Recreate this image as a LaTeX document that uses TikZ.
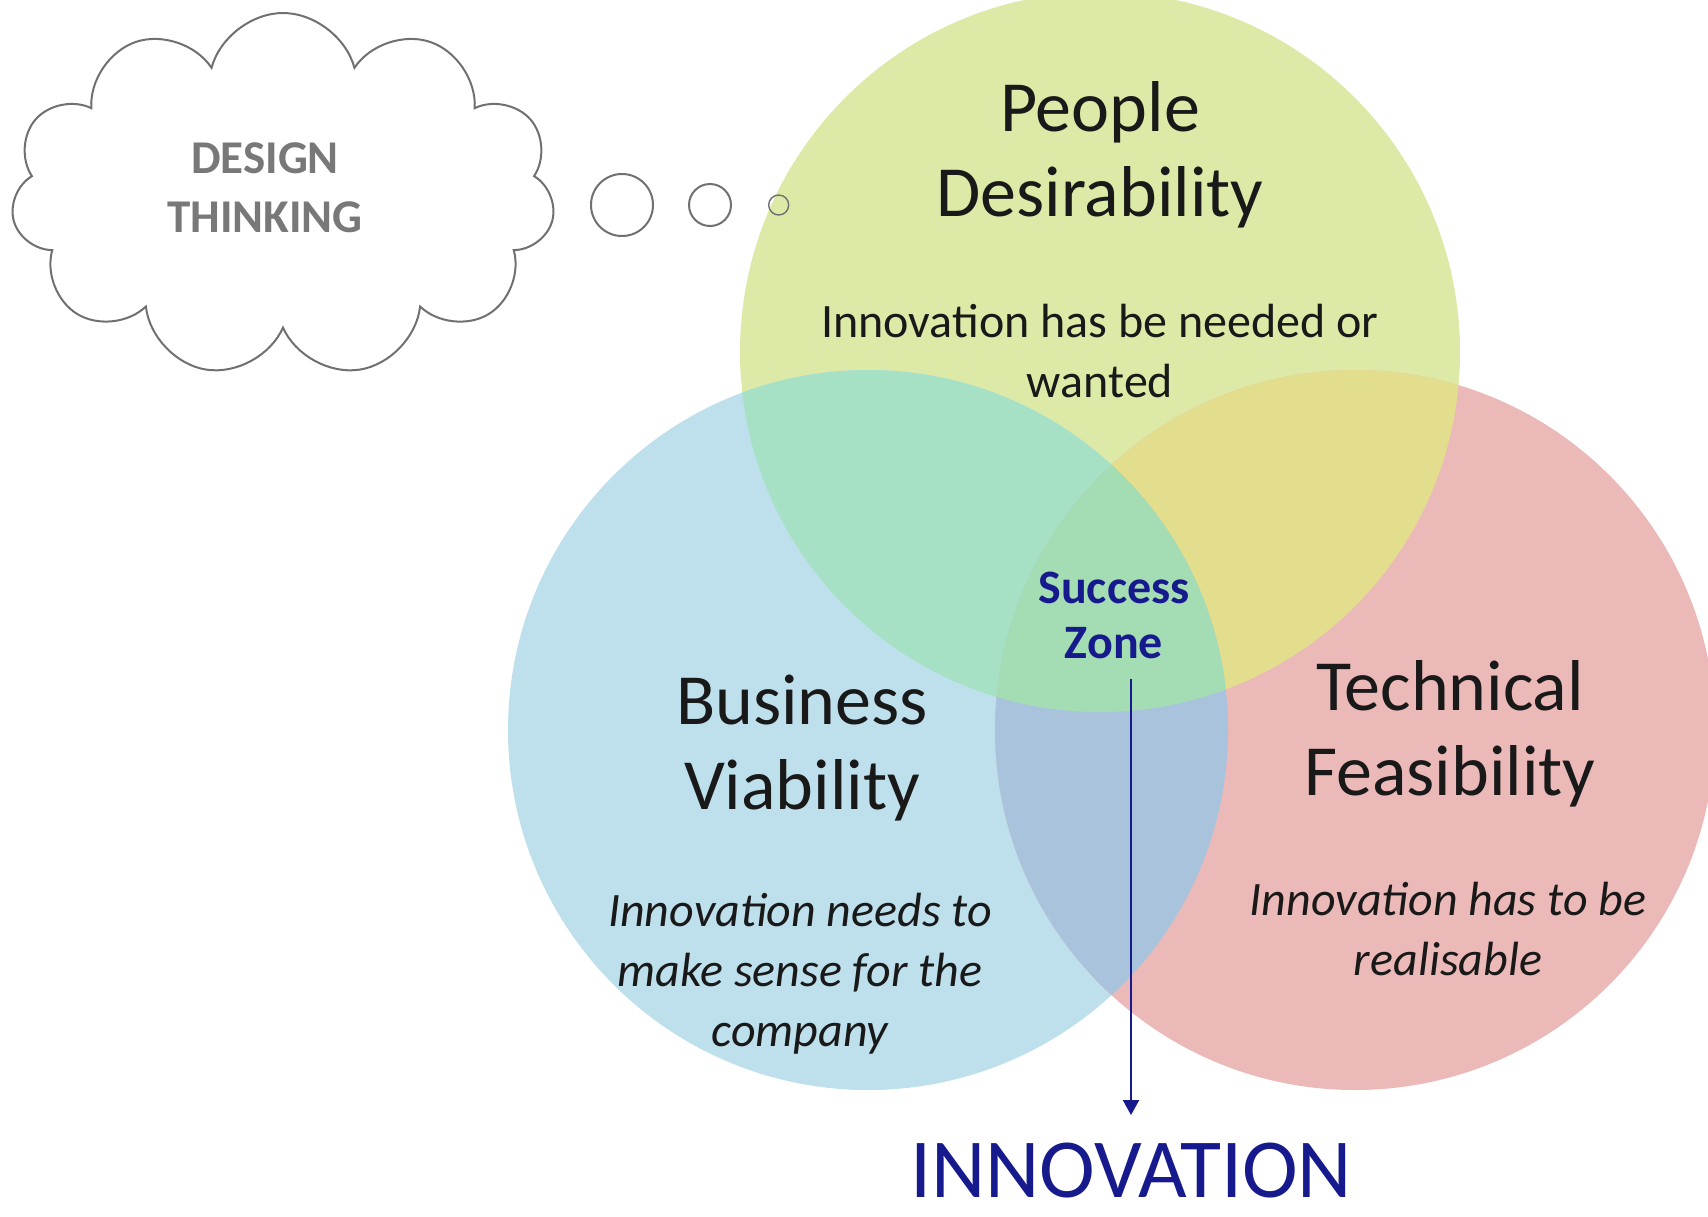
\documentclass[tikz,border=0pt]{standalone}
\usepackage{fontspec}
\setmainfont{Carlito}
\usetikzlibrary{positioning,shapes.symbols,arrows.meta}

\definecolor{pdfill}{RGB}{221,234,167}
\definecolor{bvfill}{RGB}{190,224,236}
\definecolor{tffill}{RGB}{235,186,184}
\definecolor{pdbv}{RGB}{166,225,198}
\definecolor{pdtf}{RGB}{226,222,142}
\definecolor{bvtf}{RGB}{169,195,220}
\definecolor{allthree}{RGB}{164,221,180}
\definecolor{zonenavy}{RGB}{22,26,140}
\definecolor{cloudgrey}{RGB}{112,112,112}
\definecolor{dtgrey}{RGB}{120,120,120}

\newcommand{\vennr}{180pt}

\tikzset{
  headtxt/.style={align=center, text=black!90, inner sep=0pt, font=\fontsize{36}{42.5}\selectfont},
  blurb/.style={align=center, text=black!90, inner sep=0pt, font=\fontsize{24}{30}\selectfont},
  bubble/.style={draw=cloudgrey, circle, line width=1pt, inner sep=0pt}
}

\begin{document}
\begin{tikzpicture}[x=0.5pt, y=-0.5pt]
\useasboundingbox (0,0) rectangle (1708,1216);

% the three sets
\coordinate (pdc) at (1100,352);
\coordinate (bvc) at (868,730);
\coordinate (tfc) at (1355,730);
\fill[pdfill] (pdc) circle[radius=\vennr];
\fill[bvfill] (bvc) circle[radius=\vennr];
\fill[tffill] (tfc) circle[radius=\vennr];
\begin{scope}
\clip (pdc) circle[radius=\vennr];
\fill[pdbv] (bvc) circle[radius=\vennr];
\fill[pdtf] (tfc) circle[radius=\vennr];
\end{scope}
\begin{scope}
\clip (bvc) circle[radius=\vennr];
\fill[bvtf] (tfc) circle[radius=\vennr];
\clip (pdc) circle[radius=\vennr];
\fill[allthree] (tfc) circle[radius=\vennr];
\end{scope}

% thought cloud
\node[draw=cloudgrey, line width=1pt, cloud, cloud puffs=11, cloud ignores aspect,
  minimum width=272pt, minimum height=182pt] (dtcloud) at (283,195) {};
\node[align=center, text=dtgrey, font=\bfseries\fontsize{23.5}{29.5}\selectfont, inner sep=0pt]
  (dt) at (265,188) {DESIGN\\THINKING};
\node[bubble, minimum size=31pt] (b1) at (622,205) {};
\node[bubble, minimum size=21pt, right=17pt of b1] (b2) {};
\node[bubble, minimum size=10pt, line width=0.7pt, right=18pt of b2] (b3) {};

% labels
\node[headtxt] (pd) at (1100,155) {People\\Desirability};
\node[blurb] (pdtxt) at (1100,351) {Innovation has be needed or\\wanted};
\node[headtxt] (bv) at (802,748) {Business\\Viability};
\node[blurb, font=\itshape\fontsize{24}{30}\selectfont] (bvtxt) at (800,974)
  {Innovation needs to\\make sense for the\\company};
\node[headtxt] (tf) at (1450,734) {Technical\\Feasibility};
\node[blurb, font=\itshape\fontsize{24}{30}\selectfont] (tftxt) at (1448,929)
  {Innovation has to be\\realisable};
\node[align=center, text=zonenavy, inner sep=0pt, font=\bfseries\fontsize{24}{27.5}\selectfont]
  (sz) at (1114,615) {Success\\Zone};
\node[text=zonenavy, inner sep=0pt, font=\fontsize{42}{50}\selectfont] (inno) at (1131,1171) {INNOVATION};

\draw[zonenavy, line width=1pt, -{Triangle[length=7.5pt,width=8pt]}, shorten <=10pt, shorten >=14pt]
  (sz.south -| inno.north) -- (inno.north);
\end{tikzpicture}
\end{document}
